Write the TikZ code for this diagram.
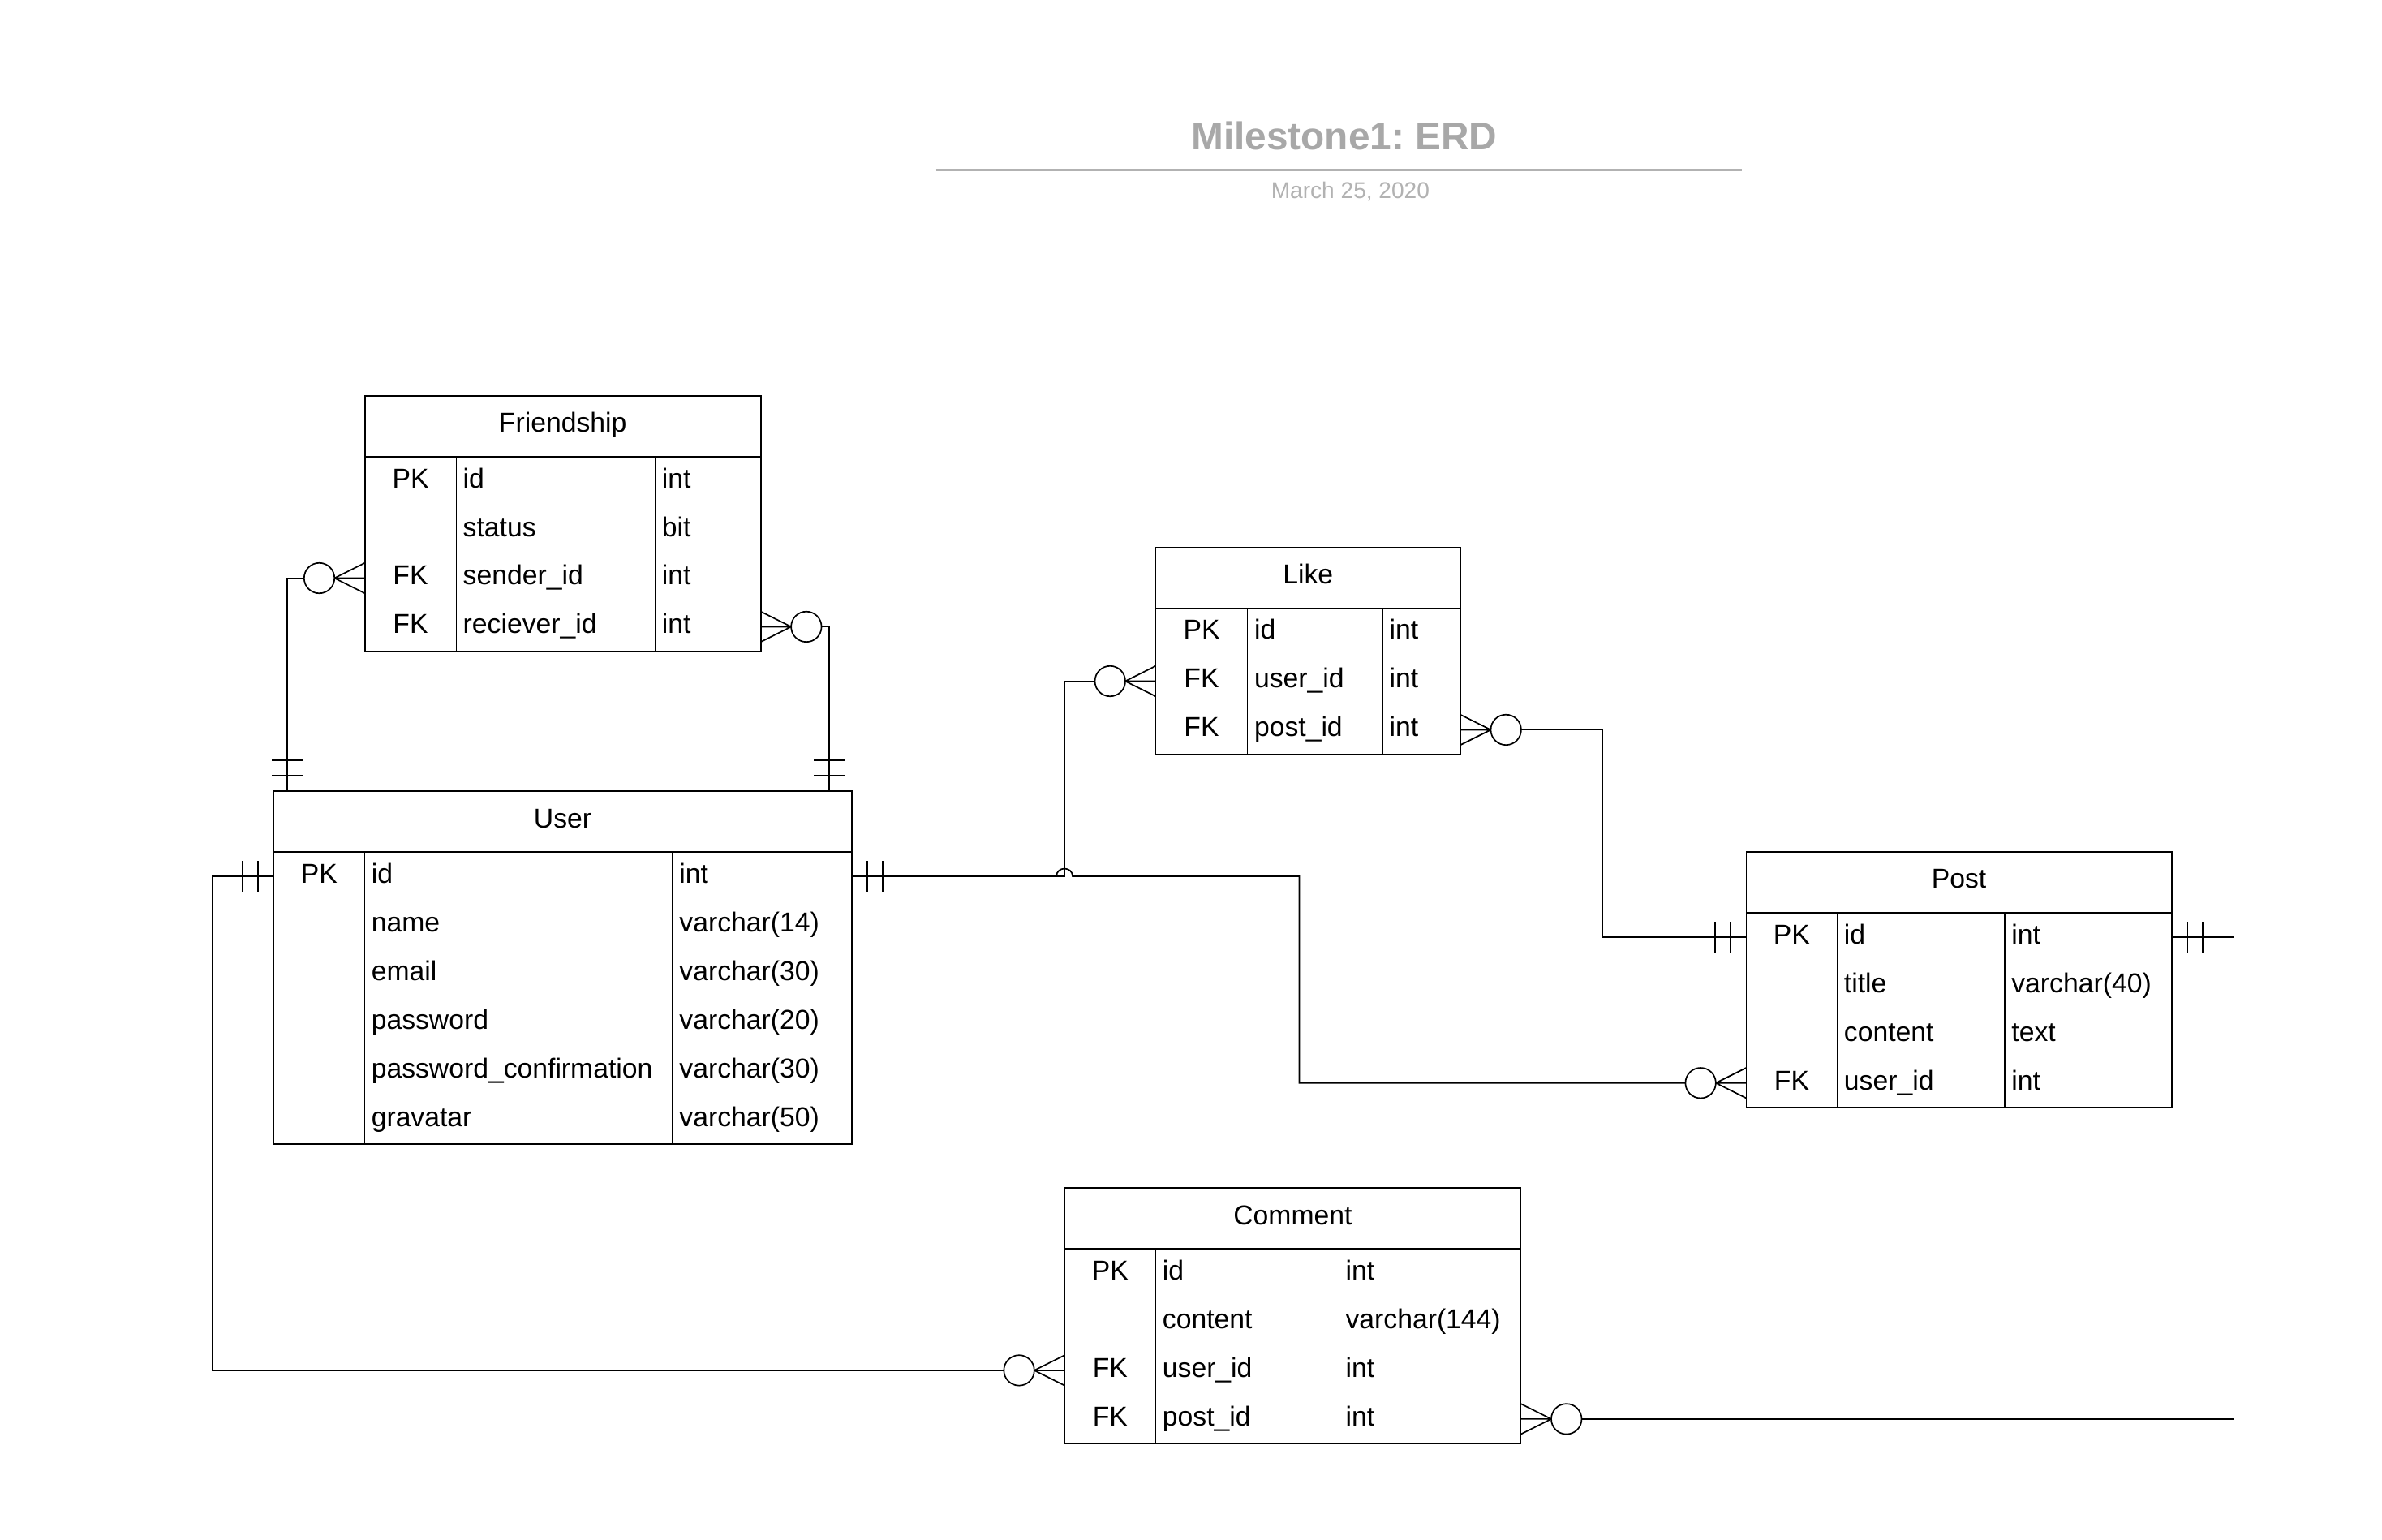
\documentclass[tikz,border=0pt]{standalone}
\usepackage{fontspec}
\setmainfont{Liberation Sans}
\frenchspacing
\definecolor{titlegray}{RGB}{168,168,168}
\definecolor{dategray}{RGB}{178,178,178}
\definecolor{linegray}{RGB}{178,178,178}
\tikzset{
  x=1pt, y=-1pt,
  tblbox/.style={draw, rectangle, line width=0.9pt, inner sep=0pt, outer sep=0pt},
  divline/.style={line width=0.6pt},
  txt/.style={font=\fontsize{18}{22}\selectfont, inner sep=0pt, outer sep=0pt},
  conn/.style={line width=0.9pt},
  zcirc/.style={circle, draw, line width=0.9pt, minimum size=20pt, inner sep=0pt, outer sep=0pt, fill=white},
}
% #1 name, #2 x, #3 y, #4 width, #5 div1, #6 div2, #7 rows, #8 title, #9 rows list
\newcommand\erdtable[9]{%
  \node[tblbox, minimum width=#4pt, minimum height={40pt+32pt*#7}, anchor=north west] (#1) at (#2,#3) {};
  \draw[line width=0.9pt] ({#2},{#3+40}) -- ({#2+#4},{#3+40});
  \draw[divline] ({#2+#5},{#3+40}) -- ({#2+#5},{#3+40+32*#7});
  \draw[divline] ({#2+#6},{#3+40}) -- ({#2+#6},{#3+40+32*#7});
  \node[txt, anchor=base] (#1-title) at ({#2+#4/2},{#3+24}) {#8};
  \foreach \ka/\na/\ty [count=\i] in {#9} {
    \coordinate (#1-r\i-w) at ({#2},{#3+40+32*\i-16});
    \coordinate (#1-r\i-e) at ({#2+#4},{#3+40+32*\i-16});
    \node[txt, anchor=base] (#1-k\i) at ({#2+#5/2},{#3+40+32*(\i-1)+20.5}) {\ka};
    \node[txt, anchor=base west] (#1-n\i) at ({#2+#5+4.5},{#3+40+32*(\i-1)+20.5}) {\na};
    \node[txt, anchor=base west] (#1-t\i) at ({#2+#6+4.5},{#3+40+32*(\i-1)+20.5}) {\ty};
  }
}
% zero-or-many end: #1 circle name, #2 row coordinate, #3 side (-1 left, 1 right)
\newcommand\manyopt[3]{%
  \node[zcirc] (#1) at ([xshift=#3*30pt]#2) {};
  \draw[conn] ([xshift=#3*20pt]#2) -- ([yshift=10pt]#2)
              ([xshift=#3*20pt]#2) -- (#2)
              ([xshift=#3*20pt]#2) -- ([yshift=-10pt]#2);
}
% one-and-only-one bars on a horizontal connector: #1 coordinate, #2 side
\newcommand\hbars[2]{%
  \draw[conn] ([xshift=#2*10.5pt, yshift=10pt]#1) -- ([xshift=#2*10.5pt, yshift=-10pt]#1)
              ([xshift=#2*20.5pt, yshift=10pt]#1) -- ([xshift=#2*20.5pt, yshift=-10pt]#1);
}
% bars on a vertical connector entering a top edge
\newcommand\vbars[1]{%
  \draw[conn] ([xshift=-10pt, yshift=10.5pt]#1) -- ([xshift=10pt, yshift=10.5pt]#1)
              ([xshift=-10pt, yshift=20.5pt]#1) -- ([xshift=10pt, yshift=20.5pt]#1);
}
\begin{document}
\frenchspacing
\begin{tikzpicture}
\fill[white] (0,0) rectangle (1567.5,1013.3);
\useasboundingbox (0,0) rectangle (1567.5,1013.3);

% title block
\node[font=\bfseries\fontsize{25.5}{30}\selectfont, text=titlegray, anchor=base, inner sep=0pt] (title) at (884.5,98.5) {Milestone1: ERD};
\draw[line width=1.4pt, draw=linegray] (616,111.8) -- (1146,111.8);
\node[font=\fontsize{15}{18}\selectfont, text=dategray, anchor=base, inner sep=0pt] (date) at (888.6,130.8) {March 25, 2020};

% tables
\erdtable{friend}{240.1}{260.4}{260.5}{60.1}{191}{4}{Friendship}
  {PK/id/int, {}/status/bit, FK/sender\_id/int, FK/reciever\_id/int}
\erdtable{user}{180.1}{520.6}{380.3}{59.8}{262.5}{6}{User}
  {PK/id/int, {}/name/varchar(14), {}/email/varchar(30), {}/password/varchar(20), {}/password\_confirmation/varchar(30), {}/gravatar/varchar(50)}
\erdtable{like}{760.5}{360.2}{200.5}{60.4}{149.3}{3}{Like}
  {PK/id/int, FK/user\_id/int, FK/post\_id/int}
\erdtable{post}{1149.1}{560.6}{280}{59.9}{170.1}{4}{Post}
  {PK/id/int, {}/title/varchar(40), {}/content/text, FK/user\_id/int}
\erdtable{comment}{700.6}{781.7}{300.2}{59.9}{180.4}{4}{Comment}
  {PK/id/int, {}/content/varchar(144), FK/user\_id/int, FK/post\_id/int}

% free ends on the User top edge and junction
\coordinate (ufl) at ([xshift=8.8pt]user.north west);
\coordinate (ufr) at ([xshift=-14.7pt]user.north east);
\coordinate (jmp) at (700.5,576.6);

% Friendship.sender_id -- User
\manyopt{cfs}{friend-r3-w}{-1}
\draw[conn] (cfs.west) -| (ufl);
\vbars{ufl}
% Friendship.reciever_id -- User
\manyopt{cfr}{friend-r4-e}{1}
\draw[conn] (cfr.east) -| (ufr);
\vbars{ufr}

% User.id -- Post.user_id (with line jump)
\manyopt{cpu}{post-r4-w}{-1}
\draw[conn] (user-r1-e) -- (695.2,576.6) .. controls (695.2,569.9) and (705.8,569.9) .. (705.8,576.6) -| (855,712.6) -- (cpu.west);
\hbars{user-r1-e}{1}

% Like.user_id -- User
\manyopt{clu}{like-r2-w}{-1}
\draw[conn] (clu.west) -| (jmp) -- (user-r1-e);

% Like.post_id -- Post.id
\manyopt{clp}{like-r3-e}{1}
\draw[conn] (clp.east) -| (1054.7,616.6) -- (post-r1-w);
\hbars{post-r1-w}{-1}

% User -- Comment.user_id
\manyopt{ccu}{comment-r3-w}{-1}
\draw[conn] (user-r1-w) -- (139.9,576.6) |- (ccu.west);
\hbars{user-r1-w}{-1}

% Post -- Comment.post_id
\manyopt{ccp}{comment-r4-e}{1}
\draw[conn] (post-r1-e) -- (1470,616.6) |- (ccp.east);
\hbars{post-r1-e}{1}
\end{tikzpicture}
\end{document}
